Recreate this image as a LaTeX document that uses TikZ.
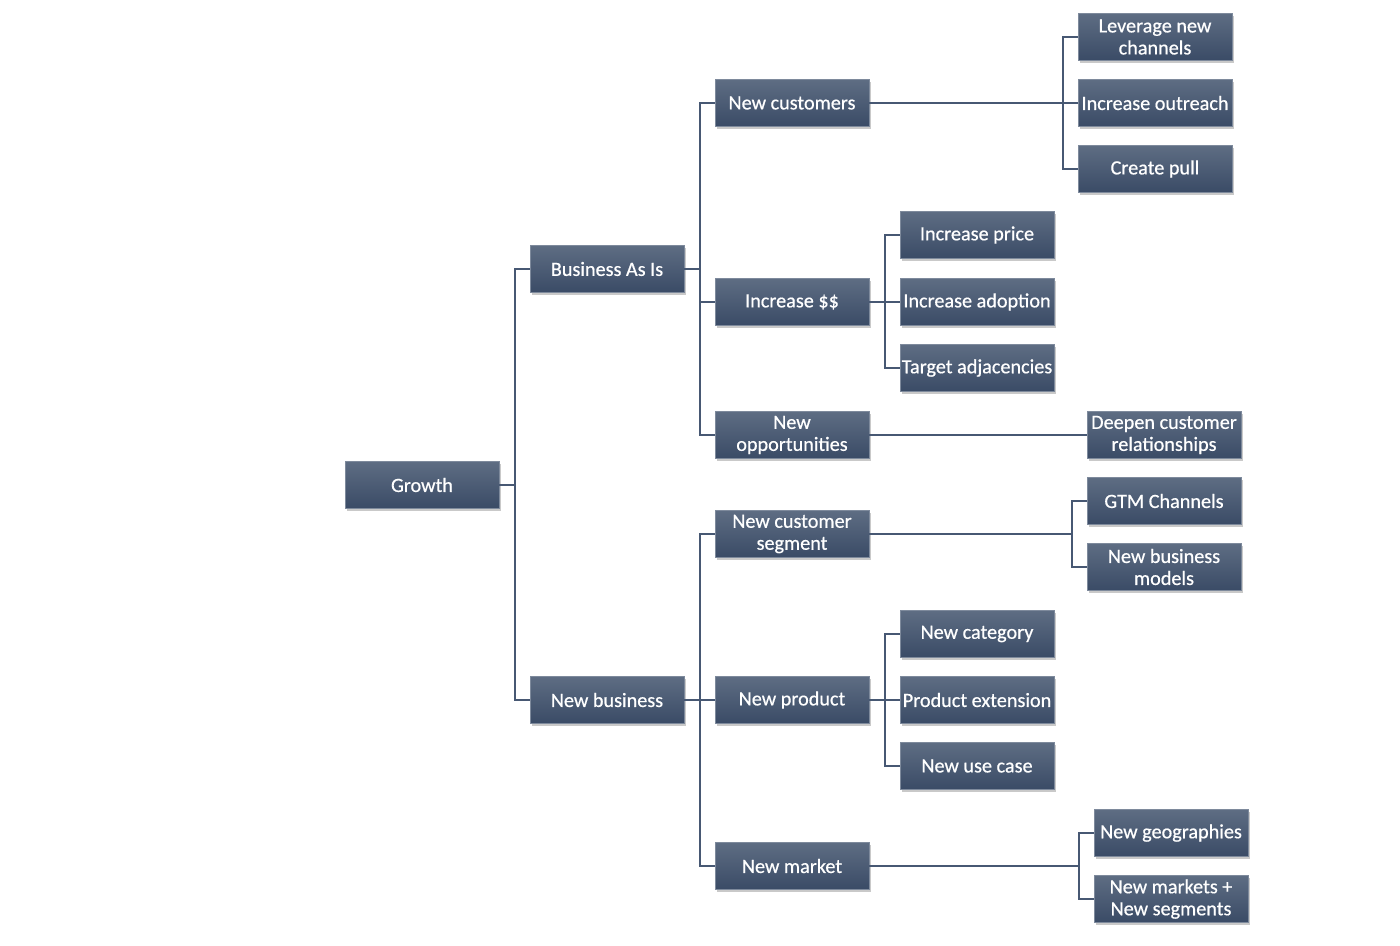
\documentclass[tikz,border=0pt]{standalone}
\usepackage{fontspec}
\setmainfont{Carlito}[FakeBold=0.6]
\usetikzlibrary{shadows}
\definecolor{boxtop}{HTML}{5E6D83}
\definecolor{boxbot}{HTML}{3A4B66}
\definecolor{linec}{HTML}{475873}
\tikzset{
  box/.style={rectangle, minimum width=154pt, minimum height=47pt, inner sep=1pt,
    top color=boxtop, bottom color=boxbot, draw=boxtop!80!white, line width=0.4pt,
    text=white, align=center, font=\fontsize{20.2}{22}\selectfont,
    drop shadow={shadow xshift=1.5pt, shadow yshift=-2.5pt, opacity=0.35, fill=black!60}},
  conn/.style={draw=linec, line width=1.5pt}
}
\begin{document}
\begin{tikzpicture}[x=1pt,y=-1pt]
\useasboundingbox[fill=white] (0,0) rectangle (1400,945);
\node[box] (growth) at (422,485) {Growth};
\node[box] (bai) at (607,269) {Business As Is};
\node[box] (nb) at (607,700) {New business};
\node[box] (nc) at (792,103) {New customers};
\node[box] (inc) at (792,302) {Increase \$\$};
\node[box] (nop) at (792,435) {New\\opportunities};
\node[box] (ncs) at (792,534) {New customer\\segment};
\node[box] (np) at (792,700) {New product};
\node[box] (nm) at (792,866) {New market};
\node[box] (lnc) at (1155,37) {Leverage new\\channels};
\node[box] (io) at (1155,103) {Increase outreach};
\node[box] (cp) at (1155,169) {Create pull};
\node[box] (ip) at (977,235) {Increase price};
\node[box] (ia) at (977,302) {Increase adoption};
\node[box] (ta) at (977,368) {Target adjacencies};
\node[box] (dcr) at (1164,435) {Deepen customer\\relationships};
\node[box] (gtm) at (1164,501) {GTM Channels};
\node[box] (nbm) at (1164,567) {New business\\models};
\node[box] (ncat) at (977,634) {New category};
\node[box] (pe) at (977,700) {Product extension};
\node[box] (nuc) at (977,766) {New use case};
\node[box] (ng) at (1171,833) {New geographies};
\node[box] (nms) at (1171,899) {New markets +\\New segments};

\foreach \c in {bai,nb} \path[conn] (growth.east) -- ++(16,0) |- (\c.west);
\foreach \c in {nc,inc,nop} \path[conn] (bai.east) -- ++(16,0) |- (\c.west);
\foreach \c in {ncs,np,nm} \path[conn] (nb.east) -- ++(16,0) |- (\c.west);
\foreach \c in {lnc,io,cp} \path[conn] (nc.east) -- ++(194,0) |- (\c.west);
\foreach \c in {ip,ia,ta} \path[conn] (inc.east) -- ++(16,0) |- (\c.west);
\path[conn] (nop.east) -- (dcr.west);
\foreach \c in {gtm,nbm} \path[conn] (ncs.east) -- ++(203,0) |- (\c.west);
\foreach \c in {ncat,pe,nuc} \path[conn] (np.east) -- ++(16,0) |- (\c.west);
\foreach \c in {ng,nms} \path[conn] (nm.east) -- ++(210,0) |- (\c.west);
\end{tikzpicture}
\end{document}
